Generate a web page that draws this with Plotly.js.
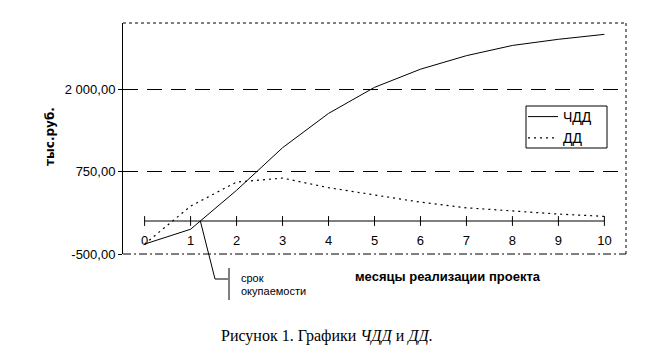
<!DOCTYPE html>
<html>
<head>
<meta charset="utf-8">
<script src="https://cdn.plot.ly/plotly-3.0.1.min.js"></script>
<style>html,body{margin:0;padding:0;background:#fff;}#chart{width:650px;height:360px;}</style>
</head>
<body>
<div id="chart"></div>
<script>
// ---- data ----
var months = [0, 1, 2, 3, 4, 5, 6, 7, 8, 9, 10];
var npv = [-350, -125, 465, 1110, 1630, 2025, 2300, 2505, 2660, 2753, 2828];   // ЧДД
var cf  = [-350, 225, 590, 650, 505, 390, 285, 200, 150, 105, 70];            // ДД
var seriesNames = ["ЧДД", "ДД"];
var yTickVals = [-500, 750, 2000];
var yTickText = ["-500,00", "750,00", "2 000,00"];
var xTickText = ["0", "1", "2", "3", "4", "5", "6", "7", "8", "9", "10"];
var yTitle = "тыс.руб.";
var xTitle = "месяцы реализации проекта";
var calloutText = ["срок", "окупаемости"];
var caption = "Рисунок 1. Графики <i>ЧДД</i> и <i>ДД</i>.";

// ---- layout geometry ----
var xRange = [-0.47, 10.47];
var yRange = [-500, 3000];
var sans = 'Arial, "Liberation Sans", sans-serif';
var dejavu = '"DejaVu Sans", sans-serif';
var serif = '"Times New Roman", "Liberation Serif", serif';

// payback point: where ЧДД crosses zero (interpolated from data)
var payback = null;
for (var i = 1; i < npv.length; i++) {
  if (npv[i - 1] < 0 && npv[i] >= 0) {
    payback = months[i - 1] + (0 - npv[i - 1]) / (npv[i] - npv[i - 1]) * (months[i] - months[i - 1]);
    break;
  }
}
function px(v) { return (v - xRange[0]) / (xRange[1] - xRange[0]); }
function py(v) { return (v - yRange[0]) / (yRange[1] - yRange[0]); }
// pixel -> paper helpers (plot area: left 123, top 23, width 503, height 231)
function ppx(p) { return (p - 123) / 503; }
function ppy(p) { return (254 - p) / 231; }

var traces = [
  { // category axis drawn at y = 0 with crossing ticks
    x: months, y: months.map(function () { return 0; }),
    mode: 'lines+markers', line: { color: 'black', width: 1 },
    marker: { symbol: 'line-ns-open', size: 7, line: { color: 'black', width: 1 } },
    showlegend: false, hoverinfo: 'skip', cliponaxis: false
  },
  {
    x: months, y: npv, name: seriesNames[0], mode: 'lines',
    line: { color: 'black', width: 1 }
  },
  {
    x: months, y: cf, name: seriesNames[1], mode: 'lines',
    line: { color: 'black', width: 1.2, dash: '2px,4px' }
  }
];

var layout = {
  width: 650, height: 360,
  margin: { l: 123, r: 24, t: 23, b: 106 },
  paper_bgcolor: 'white', plot_bgcolor: 'white',
  font: { family: sans, size: 12, color: 'black' },
  hovermode: false,
  showlegend: true,
  legend: {
    x: ppx(523), y: ppy(101), xanchor: 'left', yanchor: 'top',
    borderwidth: 0, bgcolor: 'rgba(0,0,0,0)',
    font: { family: sans, size: 14, color: 'black' },
    traceorder: 'normal', tracegroupgap: 0
  },
  xaxis: {
    range: xRange, anchor: 'free', position: py(0),
    showline: false, showgrid: false, zeroline: false,
    tickmode: 'array', tickvals: months, ticktext: xTickText,
    ticks: '', ticklabelstandoff: 10,
    tickfont: { family: sans, size: 13, color: 'black' }
  },
  yaxis: {
    range: yRange, showline: true, linecolor: 'black', linewidth: 1,
    zeroline: false, showgrid: true, gridcolor: 'black', gridwidth: 1, griddash: '15px,9px',
    tickmode: 'array', tickvals: yTickVals, ticktext: yTickText,
    ticks: 'outside', ticklen: 4, tickcolor: 'black', tickwidth: 1,
    tickfont: { family: sans, size: 13, color: 'black' }
  },
  shapes: [
    { type: 'line', xref: 'paper', yref: 'paper', x0: 0, x1: 1, y0: 1, y1: 1,
      line: { color: 'black', width: 1, dash: '3px,3px' } },
    { type: 'line', xref: 'paper', yref: 'paper', x0: 1, x1: 1, y0: 0, y1: 1,
      line: { color: 'black', width: 1, dash: '3px,3px' } },
    { type: 'line', xref: 'paper', yref: 'paper', x0: 0, x1: 1, y0: 0, y1: 0,
      line: { color: 'black', width: 1, dash: '8px,3px,2px,3px' } },
    // legend frame
    { type: 'rect', xref: 'paper', yref: 'paper', x0: ppx(526), x1: ppx(607), y0: ppy(148), y1: ppy(106),
      line: { color: 'black', width: 1 }, fillcolor: 'white', layer: 'above' },
    // payback callout
    { type: 'path', xref: 'paper', yref: 'paper',
      path: 'M ' + px(payback) + ' ' + py(0) + ' L ' + ppx(215) + ' ' + ppy(279) + ' L ' + ppx(228) + ' ' + ppy(279),
      line: { color: 'black', width: 1 } },
    { type: 'line', xref: 'paper', yref: 'paper', x0: ppx(229), x1: ppx(229), y0: ppy(268), y1: ppy(300),
      line: { color: 'black', width: 1 } }
  ],
  annotations: [
    { text: '<b>' + yTitle + '</b>', xref: 'paper', yref: 'paper', x: ppx(50), y: ppy(137),
      xanchor: 'center', yanchor: 'middle',
      textangle: -90, showarrow: false, font: { family: dejavu, size: 12, color: 'black' } },
    { text: '<b>' + xTitle + '</b>', xref: 'paper', yref: 'paper', x: ppx(448), y: ppy(276),
      xanchor: 'center', yanchor: 'middle',
      showarrow: false, font: { family: sans, size: 13, color: 'black' } },
    { text: calloutText[0], xref: 'paper', yref: 'paper', x: ppx(239), y: ppy(278),
      xanchor: 'left', yanchor: 'middle',
      showarrow: false, font: { family: sans, size: 11, color: 'black' } },
    { text: calloutText[1], xref: 'paper', yref: 'paper', x: ppx(239), y: ppy(291),
      xanchor: 'left', yanchor: 'middle',
      showarrow: false, font: { family: sans, size: 11, color: 'black' } },
    { text: caption, xref: 'paper', yref: 'paper', x: ppx(327), y: ppy(336),
      xanchor: 'center', yanchor: 'middle',
      showarrow: false, font: { family: serif, size: 16, color: 'black' } }
  ]
};

Plotly.newPlot('chart', traces, layout, { staticPlot: true, displayModeBar: false });
</script>
</body>
</html>
